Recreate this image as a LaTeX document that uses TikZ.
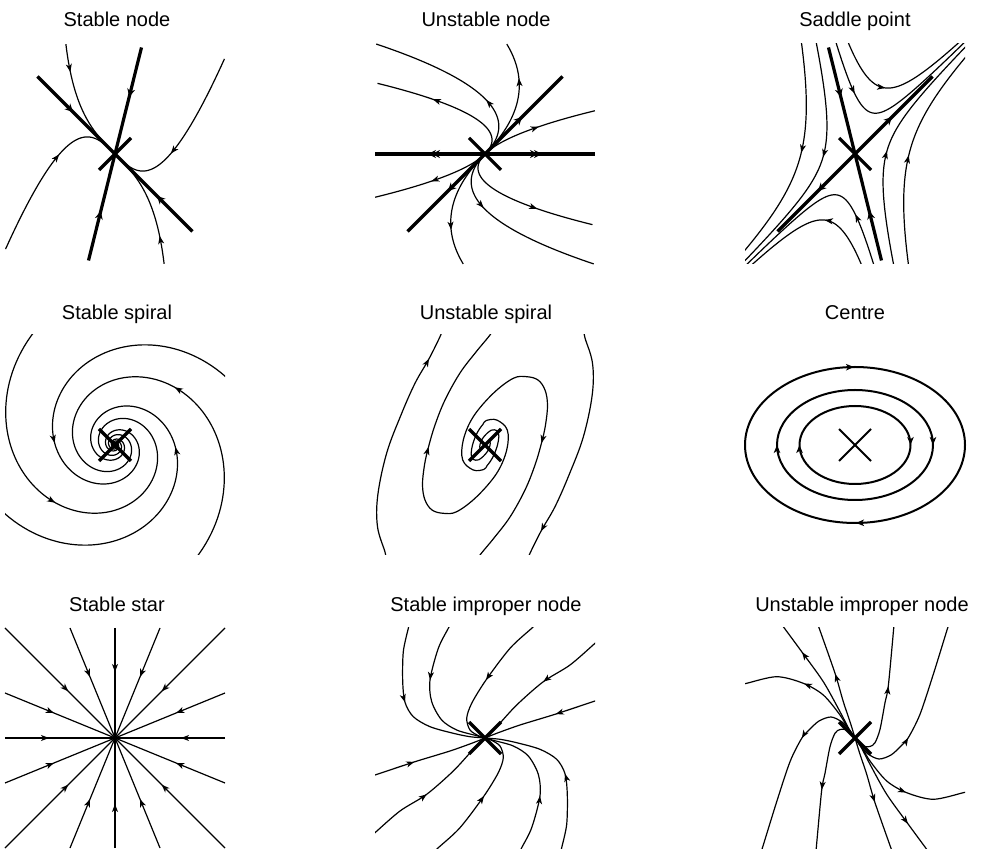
\documentclass[tikz,border=0pt]{standalone}
\usepackage{fontspec}
\setmainfont{Liberation Sans}
\usetikzlibrary{arrows.meta,decorations.markings,calc}
\tikzset{
  curveA/.style={line width=1.2pt,line join=round},
  eigline/.style={line width=3.2pt},
  ringline/.style={line width=2pt},
  mytip/.style={line width=1.2pt,-{Stealth[length=8pt,width=6pt,inset=2.2pt]}},
  eigtip/.style={line width=1.2pt,-{Stealth[length=8pt,width=8pt,inset=2.6pt]}},
  mytipB/.style={line width=2pt,-{Stealth[length=8pt,width=6.5pt,inset=2.2pt]}},
  arrat/.style={postaction={decorate},decoration={markings,mark=at position #1 with {\arrow{Stealth[length=8pt,width=6pt,inset=2.2pt]}}}},
  ptitle/.style={font=\fontsize{20}{24}\selectfont,anchor=base,inner sep=0pt},
}
% panel 1: stable node, slow (1,-1), fast (0.2425,0.9701), ratio 3
\newcommand\pAx[3]{0.7071*(#1)*(#3)+0.2425*(#2)*(#3)^3}
\newcommand\pAy[3]{-0.7071*(#1)*(#3)+0.9701*(#2)*(#3)^3}
\newcommand\pAcurve[2]{\draw[curveA] plot[domain=0:1,samples=80,variable=\t] ({\pAx{#1}{#2}{\t}},{\pAy{#1}{#2}{\t}});}
\newcommand\pAarr[3]{\draw[mytip] ({\pAx{#1}{#2}{#3+0.03}},{\pAy{#1}{#2}{#3+0.03}}) -- ({\pAx{#1}{#2}{#3}},{\pAy{#1}{#2}{#3}});}
% panel 2: unstable node, slow (1,1), fast (1,0), ratio 2
\newcommand\pBx[3]{0.7071*(#1)*(#3)+(#2)*(#3)^2}
\newcommand\pBy[3]{0.7071*(#1)*(#3)}
\newcommand\pBcurve[2]{\draw[curveA] plot[domain=0:1,samples=80,variable=\t] ({\pBx{#1}{#2}{\t}},{\pBy{#1}{#2}{\t}});}
\newcommand\pBarr[3]{\draw[mytip] ({\pBx{#1}{#2}{#3-0.03}},{\pBy{#1}{#2}{#3-0.03}}) -- ({\pBx{#1}{#2}{#3}},{\pBy{#1}{#2}{#3}});}
% panel 3: saddle
\newcommand\pCx[3]{0.7071*(#1)*exp(#3)-0.2425*(#2)*exp(-1.5*(#3))}
\newcommand\pCy[3]{0.7071*(#1)*exp(#3)+0.9701*(#2)*exp(-1.5*(#3))}
\newcommand\pCcurve[2]{\draw[curveA] plot[domain=-0.3:3.2,samples=160,variable=\t] ({\pCx{#1}{#2}{\t}},{\pCy{#1}{#2}{\t}});}
\newcommand\pCarr[3]{\draw[mytip] ({\pCx{#1}{#2}{#3-0.03}},{\pCy{#1}{#2}{#3-0.03}}) -- ({\pCx{#1}{#2}{#3}},{\pCy{#1}{#2}{#3}});}
% panel 4: stable spiral (log spiral)
\newcommand\pDx[3]{(#1)*exp(-0.3*((#3)-(#2))*0.0174533)*cos(#3)}
\newcommand\pDy[3]{(#1)*exp(-0.3*((#3)-(#2))*0.0174533)*sin(#3)}
\newcommand\pDcurve[4]{\draw[curveA] plot[domain=#3:#4,samples=500,variable=\t] ({\pDx{#1}{#2}{\t}},{\pDy{#1}{#2}{\t}});}
\newcommand\pDarr[3]{\draw[mytip] ({\pDx{#1}{#2}{#3-2}},{\pDy{#1}{#2}{#3-2}}) -- ({\pDx{#1}{#2}{#3}},{\pDy{#1}{#2}{#3}});}
\begin{document}
\begin{tikzpicture}[x=1pt,y=1pt]
\fill[white] (0,0) rectangle (988,849);
\useasboundingbox (0,0) rectangle (988,849);
% titles
\node[ptitle] (t1) at (117,822) {Stable node};
\node[ptitle] (t2) at (486,822) {Unstable node};
\node[ptitle] (t3) at (855,822) {Saddle point};
\node[ptitle] (t4) at (117,529) {Stable spiral};
\node[ptitle] (t5) at (486,529) {Unstable spiral};
\node[ptitle] (t6) at (855,529) {Centre};
\node[ptitle] (t7) at (117,237) {Stable star};
\node[ptitle] (t8) at (486,237) {Stable improper node};
\node[ptitle] (t9) at (862,237) {Unstable improper node};
% ---------- panel 1
\begin{scope}[shift={(115,695)}]
\pAcurve{-86.7}{50.2}
\pAcurve{97}{169}
\pAcurve{-97}{-169}
\pAcurve{86.7}{-50.2}
\draw[eigline] (-77.5,77.5) -- (77.5,-77.5);
\draw[eigline] (26.5,106.5) -- (-26.5,-106.5);
\draw[eigline] (-16,-16) -- (16,16);
\pAarr{-86.7}{50.2}{0.85}
\pAarr{86.7}{-50.2}{0.85}
\pAarr{97}{169}{0.65}
\pAarr{-97}{-169}{0.65}
\draw[eigtip] (-45,45) -- (-42,42);
\draw[eigtip] (45,-45) -- (42,-42);
\draw[eigtip] (15,60.1) -- (14.3,57.2);
\draw[eigtip] (-15,-60.1) -- (-14.3,-57.2);
\end{scope}
% ---------- panel 2
\begin{scope}[shift={(485,695)}]
\pBcurve{155.6}{-219}
\pBcurve{100}{-178.4}
\pBcurve{155.6}{-88.3}
\pBcurve{61.2}{66.7}
\pBcurve{-155.6}{219}
\pBcurve{-100}{178.4}
\pBcurve{-155.6}{88.3}
\pBcurve{-61.2}{-66.7}
\draw[eigline] (-110,0) -- (110,0);
\draw[eigline] (-77.5,-77.5) -- (77.5,77.5);
\draw[eigline] (-16,16) -- (16,-16);
\pBarr{155.6}{-219}{0.49}
\pBarr{100}{-178.4}{0.774}
\pBarr{155.6}{-88.3}{0.688}
\pBarr{61.2}{66.7}{0.63}
\pBarr{-155.6}{219}{0.49}
\pBarr{-100}{178.4}{0.774}
\pBarr{-155.6}{88.3}{0.688}
\pBarr{-61.2}{-66.7}{0.63}
\draw[eigtip] (-50,0) -- (-53,0);
\draw[eigtip] (-54,0) -- (-57,0);
\draw[eigtip] (50,0) -- (53,0);
\draw[eigtip] (54,0) -- (57,0);
\draw[eigtip] (34,34) -- (37,37);
\draw[eigtip] (-34,-34) -- (-37,-37);
\end{scope}
% ---------- panel 3
\begin{scope}[shift={(855,695)}]
\clip (-110,-110) rectangle (110,110);
\pCcurve{-29.4}{133.8}
\pCcurve{-12.5}{121.5}
\pCcurve{10.2}{105}
\pCcurve{24.7}{92.6}
\pCcurve{29.4}{-133.8}
\pCcurve{12.5}{-121.5}
\pCcurve{-10.2}{-105}
\pCcurve{-24.7}{-92.6}
\draw[eigline] (-77.5,-77.5) -- (77.5,77.5);
\draw[eigline] (-26.5,106.5) -- (26.5,-106.5);
\draw[eigline] (-16,16) -- (16,-16);
\pCarr{-29.4}{133.8}{0.72}
\pCarr{-12.5}{121.5}{1.085}
\pCarr{10.2}{105}{0.493}
\pCarr{24.7}{92.6}{0.76}
\pCarr{29.4}{-133.8}{0.72}
\pCarr{12.5}{-121.5}{1.085}
\pCarr{-10.2}{-105}{0.493}
\pCarr{-24.7}{-92.6}{0.76}
\draw[eigtip] (34,34) -- (37,37);
\draw[eigtip] (-34,-34) -- (-37,-37);
\draw[eigtip] (-15,60.1) -- (-14.3,57.2);
\draw[eigtip] (15,-60.1) -- (14.3,-57.2);
\end{scope}
% ---------- panel 4
\begin{scope}[shift={(115,404)}]
\clip (-110,-110) rectangle (110,110);
\pDcurve{138}{127}{102}{1277}
\pDcurve{128.5}{33.9}{9}{1184}
\pDcurve{128.5}{213.9}{189}{1364}
\pDcurve{138}{307}{282}{1457}
\draw[eigline] (-16,-16) -- (16,16);
\draw[eigline] (-16,16) -- (16,-16);
\pDarr{138}{127}{224}
\pDarr{128.5}{33.9}{178}
\pDarr{128.5}{213.9}{358}
\pDarr{138}{307}{404}
\end{scope}
% ---------- panel 5
\begin{scope}[shift={(485,404)}]
\clip (-110,-110) rectangle (110,110);
\foreach \r in {0,180}{
\begin{scope}[rotate=\r]
\draw[curveA] plot[smooth,tension=0.6] coordinates {(-1,-0.5) (-4.96,-3.33) (-4.82,1.11) (-2.6,6.29) (1.84,11.5) (6.29,14.8) (9.27,15.2) (11.8,14.4) (13.3,12.2) (13.9,8.9) (13.4,4.4) (12.6,0.4) (11.1,-4.4) (8.9,-10) (5.6,-16) (2,-20.7) (-1.1,-24.4) (-11.7,-25) (-22.3,-15) (-21.7,5) (-11.7,28.3) (8.3,51.7) (28.3,66.7) (41.7,68.3) (53,65) (60,55) (62.5,40) (60.5,20) (56.5,2) (50,-20) (40,-45) (25,-72) (9,-93) (-5,-110) (-8,-116)};
\draw[curveA] plot[smooth,tension=0.6] coordinates {(-99,-114) (-100,-107) (-107.5,-81.7) (-107.2,-50) (-98.3,-8) (-84,30) (-70,61.7) (-56,86.2) (-45,108.3) (-43,114)};
\draw[mytip] (57.3,5) -- (56.5,2);
\draw[mytip] (-57.6,83.2) -- (-56,86.2);
\end{scope}}
\draw[eigline] (-16,-16) -- (16,16);
\draw[eigline] (-16,16) -- (16,-16);
\end{scope}
% ---------- panel 6
\begin{scope}[shift={(855,404)}]
\draw[ringline] (0,0) ellipse [x radius=110,y radius=78];
\draw[ringline] (0,0) ellipse [x radius=78,y radius=55];
\draw[ringline] (0,0) ellipse [x radius=55.5,y radius=39];
\draw[ringline] (-16,-16) -- (16,16);
\draw[ringline] (-16,16) -- (16,-16);
\draw[mytipB] (-5,77.9) -- (-1,78);
\draw[mytipB] (5,-77.9) -- (1,-78);
\draw[mytipB] (-78,-4) -- (-78,0);
\draw[mytipB] (78,4) -- (78,0);
\draw[mytipB] (-55.5,-4) -- (-55.5,0);
\draw[mytipB] (55.5,4) -- (55.5,0);
\end{scope}
% ---------- panel 7
\begin{scope}[shift={(115,111)}]
\coordinate (o7) at (0,0);
\foreach \px/\py in {110/0,110/45,110/110,45/110,0/110,-45/110,-110/110,-110/45,-110/0,-110/-45,-110/-110,-45/-110,0/-110,45/-110,110/-110,110/-45}{
  \draw[curveA] (\px,\py) -- (o7);
  \draw[mytip] ($(o7)!70pt!(\px,\py)$) -- ($(o7)!66pt!(\px,\py)$);
}
\end{scope}
% ---------- panel 8
\begin{scope}[shift={(485,111)}]
\clip (-110,-110) rectangle (110,110);
\foreach \r in {0,180}{
\begin{scope}[rotate=\r]
\draw[curveA,arrat=78.6pt] plot[smooth] coordinates {(-75.9,113.6) (-76.7,109.7) (-81.7,86.3) (-82.3,56.3) (-80,35.7) (-71.7,21.3) (-55,11.3) (-31.7,4.7) (-15,1.3) (0,0)};
\draw[curveA,arrat=59.2pt] plot[smooth] coordinates {(-34.9,113.3) (-36.7,109.7) (-46.7,89.7) (-55,58) (-53.3,36.3) (-43.3,18) (-28.3,8) (-8.3,2.3) (0,0)};
\draw[curveA,arrat=73.3pt] plot[smooth] coordinates {(49.6,112.4) (46.7,109.7) (25,89.7) (1,58) (-13.3,34.7) (-18.3,19.7) (-15,8) (-6,2) (0,0)};
\draw[curveA,arrat=68.6pt] plot[smooth] coordinates {(113,97.3) (110,94.7) (85,73) (58.3,56.3) (31.7,33) (11.7,11.3) (0,0)};
\draw[curveA,arrat=46.2pt] plot[smooth] coordinates {(113.8,38.3) (110,37) (70,23.7) (35,13) (11.7,4.7) (0,0)};
\end{scope}}
\draw[eigline] (-16,-16) -- (16,16);
\draw[eigline] (-16,16) -- (16,-16);
\end{scope}
% ---------- panel 9
\begin{scope}[shift={(855,111)}]
\clip (-110,-110) rectangle (110,110);
\foreach \r in {0,180}{
\begin{scope}[rotate=\r]
\draw[curveA,arrat=101pt] plot[smooth] coordinates {(0,0) (-6,9) (-15,26.3) (-31.7,56.3) (-53.3,86.3) (-70,109) (-72.4,112.2)};
\draw[curveA,arrat=67pt] plot[smooth] coordinates {(0,0) (-5,16.3) (-11.7,36.3) (-20,64.7) (-36,110.3) (-37.3,114)};
\draw[curveA,arrat=76pt] plot[smooth] coordinates {(0,0) (-6,8) (-15,23) (-31.7,43) (-51.7,54.7) (-78.3,61.3) (-108.3,54.7) (-112.2,53.8)};
\draw[curveA,arrat=70pt] plot[smooth] coordinates {(0,0) (-5,7.5) (-13,16) (-24,21) (-36,17) (-46,8) (-53.3,-0.3) (-65,-23.7) (-78.3,-63.7) (-91.7,-107) (-93.5,-112.7)};
\draw[curveA,arrat=83pt] plot[smooth] coordinates {(0,0) (-8,8) (-15,8.5) (-20,4.7) (-25,-8.7) (-30,-35.3) (-33.3,-52) (-38.3,-105.3) (-38.8,-112)};
\end{scope}}
\draw[eigline] (-16,-16) -- (16,16);
\draw[eigline] (-16,16) -- (16,-16);
\end{scope}
\end{tikzpicture}
\end{document}
